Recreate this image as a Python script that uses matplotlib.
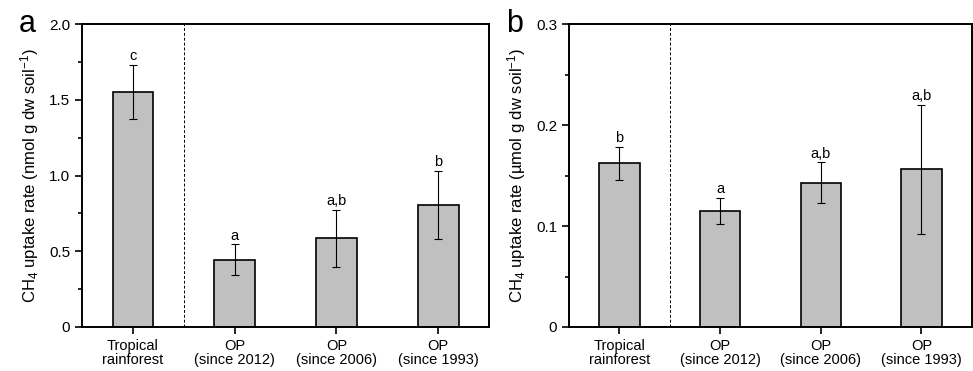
import matplotlib
matplotlib.use("Agg")
import matplotlib.pyplot as plt
from matplotlib.ticker import MultipleLocator

plt.rcParams['font.family'] = ['Liberation Sans', 'DejaVu Sans']
plt.rcParams['mathtext.fontset'] = 'custom'
plt.rcParams['mathtext.rm'] = 'Liberation Sans'
plt.rcParams['mathtext.it'] = 'Liberation Sans:italic'

categories = ['Tropical\nrainforest', 'OP\n(since 2012)', 'OP\n(since 2006)', 'OP\n(since 1993)']

# panel a: nmol g dw soil-1
rate_a = [1.55, 0.445, 0.585, 0.805]
err_a = [0.18, 0.10, 0.19, 0.225]
sig_a = ['c', 'a', 'a,b', 'b']

# panel b: umol g dw soil-1
rate_b = [0.162, 0.115, 0.143, 0.156]
err_b = [0.016, 0.013, 0.020, 0.064]
sig_b = ['b', 'a', 'a,b', 'a,b']

fig = plt.figure(figsize=(9.73, 3.71), dpi=100)
ax_a = fig.add_axes([0.0843, 0.1186, 0.4183, 0.8167])
ax_b = fig.add_axes([0.5848, 0.1186, 0.4140, 0.8167])


def draw_panel(ax, vals, errs, sigs, ymax, major, ylabel, letter):
    x = range(len(vals))
    ax.bar(x, vals, width=0.4, color='#c0c0c0', edgecolor='black', linewidth=1.2, zorder=2)
    ax.errorbar(x, vals, yerr=errs, fmt='none', ecolor='black', elinewidth=0.8,
                capsize=3, capthick=0.8, zorder=3)
    for xi, v, e, s in zip(x, vals, errs, sigs):
        ax.text(xi, v + e + ymax * 0.006, s, ha='center', va='bottom', fontsize=10.5)
    ax.axvline(0.5, color='black', linestyle=(0, (3, 2)), linewidth=0.7)
    ax.set_xlim(-0.5, 3.5)
    ax.set_ylim(0, ymax)
    ax.set_xticks(list(x))
    ax.set_xticklabels(categories, fontsize=10.5, linespacing=1.05)
    ax.yaxis.set_major_locator(MultipleLocator(major))
    ax.yaxis.set_minor_locator(MultipleLocator(major / 2))
    ax.yaxis.set_major_formatter(lambda v, p: '0' if v == 0 else ('%.1f' % v))
    ax.tick_params(axis='both', which='both', direction='out', labelsize=10.5)
    ax.tick_params(axis='y', labelsize=11)
    ax.tick_params(which='major', length=5, width=1.2)
    ax.tick_params(which='minor', length=3, width=1.2)
    for sp in ax.spines.values():
        sp.set_linewidth(1.4)
    ax.set_ylabel(ylabel, fontsize=12, labelpad=6)
    ax.text(-0.135, 1.0, letter, transform=ax.transAxes, fontsize=22,
            ha='center', va='center')


draw_panel(ax_a, rate_a, err_a, sig_a, 2.0, 0.5,
           r'CH$_4$ uptake rate (nmol g dw soil$^{\mathrm{-1}}$)', 'a')
draw_panel(ax_b, rate_b, err_b, sig_b, 0.3, 0.1,
           r'CH$_4$ uptake rate (µmol g dw soil$^{\mathrm{-1}}$)', 'b')

fig.savefig('out.png', dpi=100)
